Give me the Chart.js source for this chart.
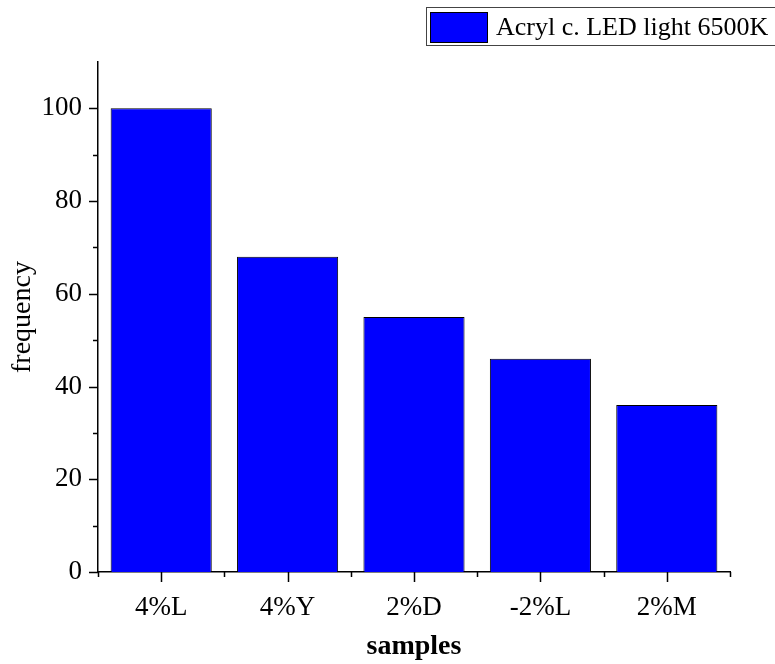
<!DOCTYPE html>
<html><head><meta charset="utf-8">
<script src="https://cdn.jsdelivr.net/npm/chart.js@4/dist/chart.umd.min.js"></script>
<style>html,body{margin:0;padding:0;background:#fff}#wrap{width:775px;height:664px}</style>
</head><body><div id="wrap"><canvas id="c" width="775" height="664"></canvas></div>
<script>
const categories = ['4%L','4%Y','2%D','-2%L','2%M'];
const frequency = [100, 68, 55, 46, 36];
const seriesName = 'Acryl c. LED light 6500K';
const yMajorTicks = [0,20,40,60,80,100];
const yMinorTicks = [10,30,50,70,90];
const FONT = '"Liberation Serif", "Times New Roman", serif';

const ticksPlugin = {
  id: 'ticksPlugin',
  afterDraw(chart) {
    const ctx = chart.ctx, xs = chart.scales.x, ys = chart.scales.y;
    ctx.save();
    ctx.strokeStyle = '#000'; ctx.lineWidth = 1.5;
    const ax = ys.right, ay = xs.top;
    ctx.beginPath();
    yMajorTicks.forEach(v => { const y = Math.round(ys.getPixelForValue(v)) + 0.5; ctx.moveTo(ax, y); ctx.lineTo(ax - 9, y); });
    yMinorTicks.forEach(v => { const y = Math.round(ys.getPixelForValue(v)) + 0.5; ctx.moveTo(ax, y); ctx.lineTo(ax - 5, y); });
    categories.forEach((c, i) => {
      const x = Math.round(xs.getPixelForValue(i)) + 0.5; ctx.moveTo(x, ay); ctx.lineTo(x, ay + 10);
    });
    for (let i = 0; i <= categories.length; i++) {
      const x = Math.round(xs.getPixelForValue(i - 0.5)) + 0.5; ctx.moveTo(x, ay); ctx.lineTo(x, ay + 5);
    }
    ctx.stroke();
    // legend
    const lx = 426, ly = 7, lw = 360, lh = 38;
    ctx.strokeStyle = '#444'; ctx.lineWidth = 1;
    ctx.strokeRect(lx + 0.5, ly + 0.5, lw, lh);
    ctx.fillStyle = '#0000ff';
    ctx.fillRect(430, 12, 58, 31);
    ctx.strokeStyle = '#000'; ctx.lineWidth = 1;
    ctx.strokeRect(430.5, 12.5, 57, 30);
    ctx.fillStyle = '#000';
    ctx.font = '26px ' + FONT;
    ctx.textBaseline = 'middle'; ctx.textAlign = 'left';
    ctx.fillText(seriesName, 496, 28);
    ctx.restore();
  }
};

new Chart(document.getElementById('c'), {
  type: 'bar',
  data: { labels: categories, datasets: [{ label: seriesName, data: frequency,
    backgroundColor: '#0000ff', borderColor: '#000', borderWidth: 1,
    barPercentage: 0.8, categoryPercentage: 1.0 }] },
  options: {
    responsive: false, animation: false, devicePixelRatio: 1,
    layout: { padding: { top: 62, right: 45, left: 0, bottom: 0 } },
    plugins: { legend: { display: false }, tooltip: { enabled: false } },
    scales: {
      x: {
        grid: { display: false }, border: { display: true, color: '#000', width: 1.5 },
        ticks: { color: '#000', font: { family: FONT, size: 27 }, padding: 12, maxRotation: 0 },
        title: { display: true, text: 'samples', color: '#000', font: { family: FONT, size: 28, weight: 'bold' }, padding: { top: 0, bottom: 0 } },
        afterFit(s) { s.height = 92; }
      },
      y: {
        min: 0, max: 110,
        grid: { display: false }, border: { display: true, color: '#000', width: 1.5 },
        afterBuildTicks(s) { s.ticks = yMajorTicks.map(v => ({ value: v })); },
        ticks: { color: '#000', font: { family: FONT, size: 27 }, padding: 8 },
        title: { display: true, text: 'frequency', color: '#000', font: { family: FONT, size: 28 }, padding: { bottom: 0, top: 6 } },
        afterFit(s) { s.width = 98; }
      }
    }
  },
  plugins: [ticksPlugin]
});
</script></body></html>
